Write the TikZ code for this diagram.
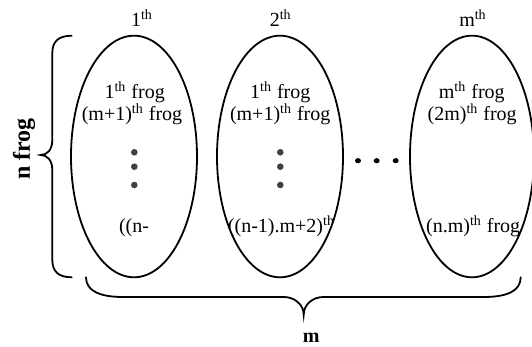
\documentclass[tikz,border=0pt]{standalone}
\usepackage{fontspec}
\setmainfont{Liberation Serif}
\usepackage{xcolor}
\usetikzlibrary{shapes.geometric}

\tikzset{
	frogset/.style={draw, ellipse, line width=0.9pt, inner sep=0pt,
		minimum width=63pt, minimum height=120.8pt},
	frogtext/.style={anchor=base, inner sep=0pt},
	stackdot/.style={fill=black!75},
	bracepath/.style={line width=0.9pt, line cap=round},
}

\begin{document}
\begin{tikzpicture}[x=0.5pt, y=0.5pt]
	\useasboundingbox (0,0) rectangle (532,347);
	
	% Groups of frogs
	\node[frogset] (col1) at (134,190.5) {};
	\node[frogset] (col2) at (280,190.5) {};
	\node[frogset, minimum width=62pt] (colm) at (472,190.5) {};
	
	% Column numbers
	\node[frogtext] (num1) at (142,320.5) {1\textsuperscript{th}};
	\node[frogtext] (num2) at (280.7,320.5) {2\textsuperscript{th}};
	\node[frogtext] (numm) at (473,320.5) {m\textsuperscript{th}};
	
	% First column
	\node[frogtext] (a1) at (134.7,248.7) {1\textsuperscript{th} frog};
	\node[frogtext] (a2) at (132,226.3) {(m+1)\textsuperscript{th} frog};
	\node[frogtext] (an) at (134,114) {((n-};
	
	% Second column
	\node[frogtext] (b1) at (280.3,248.7) {1\textsuperscript{th} frog};
	\node[frogtext] (b2) at (280.2,226.3) {(m+1)\textsuperscript{th} frog};
	\begin{scope}
		\clip (col2.center) ellipse [x radius=63, y radius=120.8];
		\node[frogtext] (bn) at (281.5,114) {((n-1).m+2)\textsuperscript{th}};
	\end{scope}
	
	% Last column
	\node[frogtext] (c1) at (471.8,248.7) {m\textsuperscript{th} frog};
	\node[frogtext] (c2) at (472.2,226.3) {(2m)\textsuperscript{th} frog};
	\node[frogtext] (cn) at (473.2,114) {(n.m)\textsuperscript{th} frog};
	
	% Vertical dots
	\foreach \x in {134.3,280.3}
	\foreach \y in {194.7,180.3,162}
	\fill[stackdot] (\x,\y) circle (3.3);
	
	% Dots between columns
	\foreach \x in {358,376.7,395.7}
	\fill (\x,186.3) ellipse [x radius=3, y radius=2.6];
	
	% Left brace
	\draw[bracepath] (71.7,311.3) .. controls (58,311.3) and (52.3,305) .. (52.3,294)
	-- (52.3,207) .. controls (52.3,197) and (47,192) .. (40.7,192)
	.. controls (47,192) and (52.3,187) .. (52.3,177)
	-- (52.3,87.3) .. controls (52.3,76) and (58,69.7) .. (71.7,69.7);
	\node[rotate=90, font=\fontsize{12}{14}\selectfont\bfseries] (nfrog) at (24,198) {n frog};
	
	% Bottom brace
	\draw[bracepath] (86,69.7) .. controls (86,56) and (100,50) .. (123,50)
	-- (283.7,50) .. controls (295,50) and (303.7,42) .. (303.7,32.3)
	.. controls (303.7,42) and (312,50) .. (323.7,50)
	-- (484,50) .. controls (507,50) and (520.7,56) .. (520.7,69.7);
	\node[frogtext, font=\bfseries] (mcount) at (311.3,4) {m};
\end{tikzpicture}
\end{document}
